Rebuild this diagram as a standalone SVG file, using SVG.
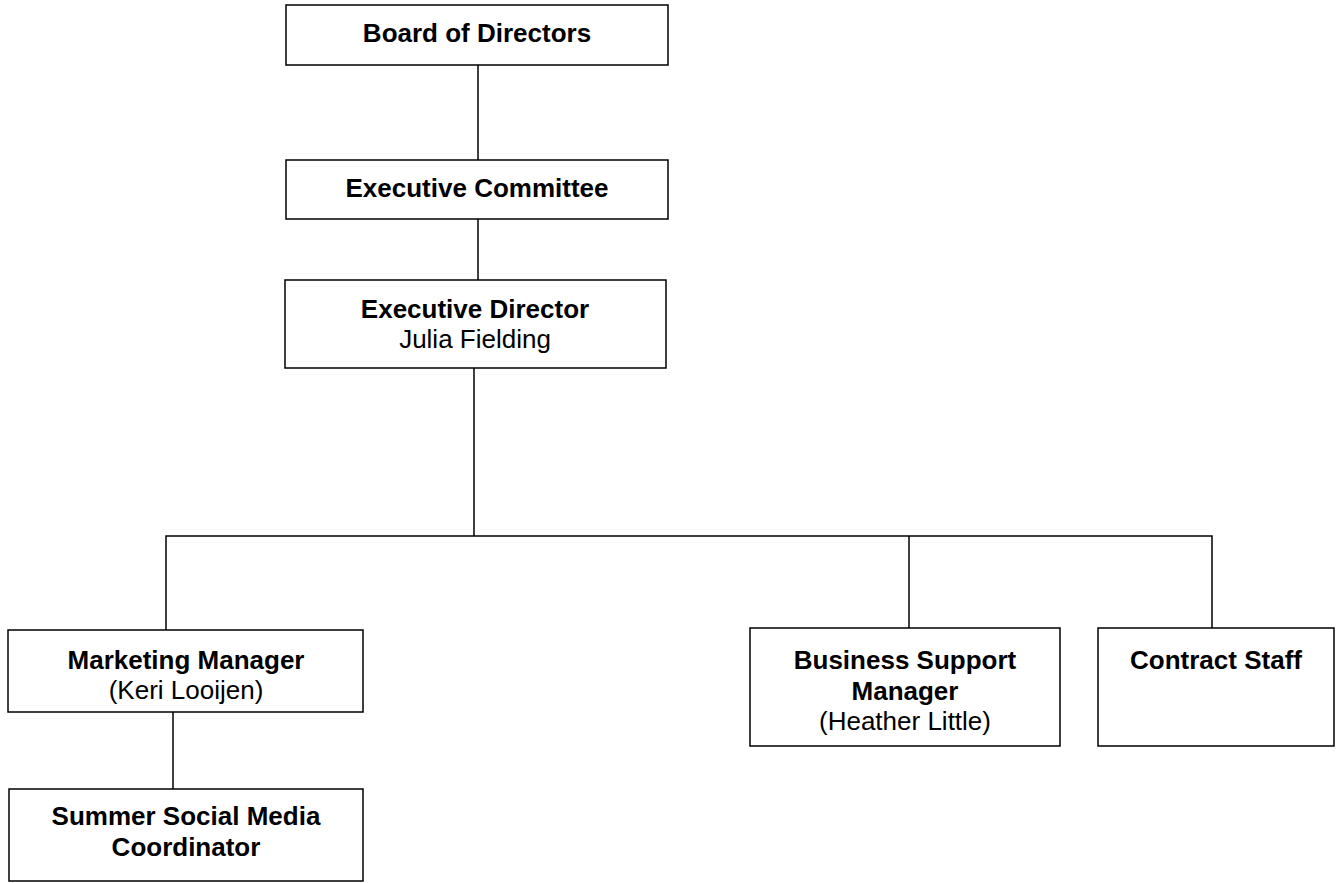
<svg xmlns="http://www.w3.org/2000/svg" width="1338" height="883" viewBox="0 0 1338 883">
<style>
.box{fill:#fff;stroke:#000;stroke-width:1.5}
.c{fill:none;stroke:#000;stroke-width:1.5}
text{font-family:"Liberation Sans",Arial,sans-serif;font-size:26px;text-anchor:middle;fill:#000}
.b{font-weight:bold}
</style>
<rect width="1338" height="883" fill="#fff"/>
<g id="connectors">
<line class="c" x1="478" y1="65" x2="478" y2="160"/>
<line class="c" x1="478" y1="219" x2="478" y2="280"/>
<line class="c" x1="474" y1="368" x2="474" y2="536"/>
<polyline class="c" points="166,630 166,536 1212,536 1212,628"/>
<line class="c" x1="909" y1="536" x2="909" y2="628"/>
<line class="c" x1="173" y1="712" x2="173" y2="789"/>
</g>
<g id="board">
<rect class="box" x="286" y="5" width="382" height="60"/>
<text class="b" x="477" y="42">Board of Directors</text>
</g>
<g id="execcommittee">
<rect class="box" x="286" y="160" width="382" height="59"/>
<text class="b" x="477" y="197">Executive Committee</text>
</g>
<g id="execdirector">
<rect class="box" x="285" y="280" width="381" height="88"/>
<text class="b" x="475" y="318">Executive Director</text>
<text x="475" y="348">Julia Fielding</text>
</g>
<g id="marketing">
<rect class="box" x="8" y="630" width="355" height="82"/>
<text class="b" x="186" y="669">Marketing Manager</text>
<text x="186" y="699">(Keri Looijen)</text>
</g>
<g id="summer">
<rect class="box" x="9" y="789" width="354" height="92"/>
<text class="b" x="186" y="825">Summer Social Media</text>
<text class="b" x="186" y="856">Coordinator</text>
</g>
<g id="business">
<rect class="box" x="750" y="628" width="310" height="118"/>
<text class="b" x="905" y="669">Business Support</text>
<text class="b" x="905" y="700">Manager</text>
<text x="905" y="730">(Heather Little)</text>
</g>
<g id="contract">
<rect class="box" x="1098" y="628" width="236" height="118"/>
<text class="b" x="1216" y="669">Contract Staff</text>
</g>
</svg>
